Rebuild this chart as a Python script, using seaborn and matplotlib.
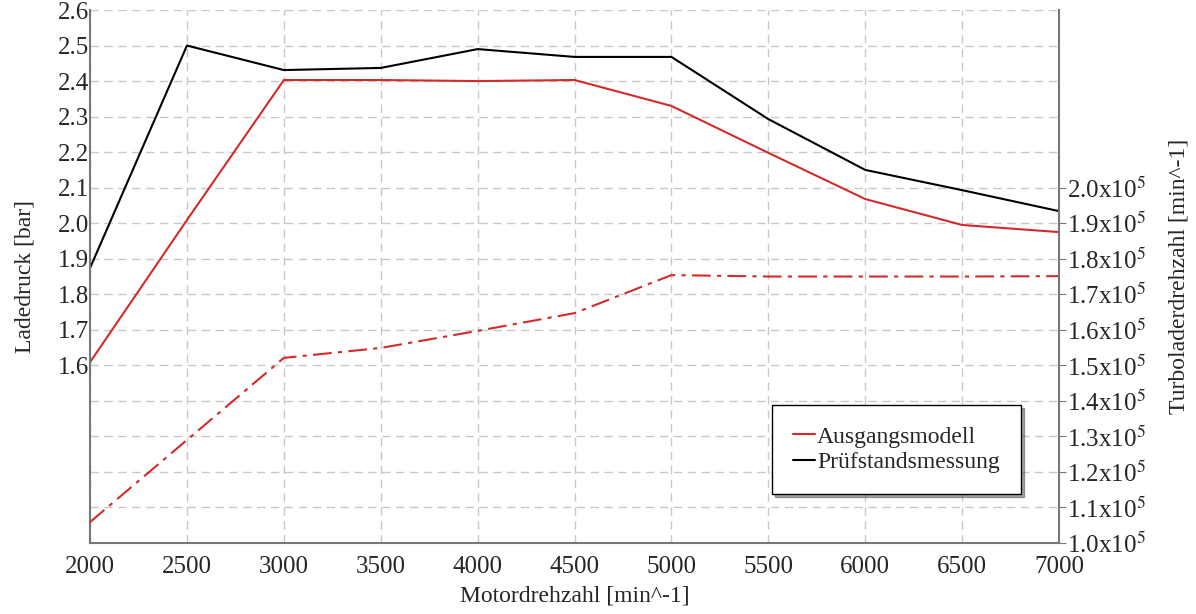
import numpy as np
import pandas as pd
import matplotlib
matplotlib.use('Agg')
import matplotlib.pyplot as plt
import seaborn as sns
from matplotlib.ticker import MultipleLocator

# Motor speed [min^-1]
drehzahl = [2000, 2500, 3000, 3500, 4000, 4500, 5000, 5500, 6000, 6500, 7000]
# boost pressure [bar]
ladedruck_messung = [1.874, 2.50, 2.431, 2.437, 2.49, 2.468, 2.468, 2.293, 2.15, 2.093, 2.034]
ladedruck_modell = [1.609, 2.009, 2.403, 2.403, 2.40, 2.403, 2.33, 2.198, 2.068, 1.995, 1.975]
# turbocharger speed [min^-1], model
turbo_modell = [1.059e5, 1.29e5, 1.521e5, 1.549e5, 1.597e5, 1.647e5, 1.754e5, 1.75e5, 1.75e5, 1.75e5, 1.751e5]

right_ticks = [1.0e5, 1.1e5, 1.2e5, 1.3e5, 1.4e5, 1.5e5, 1.6e5, 1.7e5, 1.8e5, 1.9e5, 2.0e5]

df = pd.DataFrame({'n': drehzahl, 'mess': ladedruck_messung,
                   'modell': ladedruck_modell, 'turbo': turbo_modell})

sns.set_style('white')
plt.rcParams['font.family'] = ['Liberation Serif', 'DejaVu Serif']
plt.rcParams['mathtext.fontset'] = 'stix'

RED = '#d42a2a'
GRAY = '#777777'

fig = plt.figure(figsize=(11.96, 6.14), dpi=100)
ax = fig.add_axes([0.0753, 0.1156, 0.8102, 0.8681])
ax2 = ax.twinx()

sns.lineplot(data=df, x='n', y='modell', ax=ax, color=RED, lw=1.5, label='Ausgangsmodell')
sns.lineplot(data=df, x='n', y='mess', ax=ax, color='black', lw=1.5, label='Prüfstandsmessung')
sns.lineplot(data=df, x='n', y='turbo', ax=ax2, color=RED, lw=1.5, legend=False)
ax2.lines[0].set_dashes([9, 3, 2, 3])

ax.set_xlim(2000, 7000)
ax.set_ylim(1.1, 2.6)
ax2.set_ylim(1.0e5, 2.5e5)

ax.xaxis.set_major_locator(MultipleLocator(500))
ax.xaxis.set_minor_locator(MultipleLocator(250))
ax.yaxis.set_major_locator(MultipleLocator(0.1))

yt = ax.get_yticks()
ax.set_yticks(yt)
ax.set_yticklabels([f'{v:.1f}' if v >= 1.55 else '' for v in yt])
ax.set_ylim(1.1, 2.6)

ax2.set_yticks(right_ticks)
ax2.set_yticklabels([f'{v/1e5:.1f}x10$^5$' for v in right_ticks])

ax.grid(True, which='major', color='#c8c8c8', ls=(0, (6, 4)), lw=1)
ax.set_axisbelow(True)

ax.tick_params(axis='x', which='both', direction='in', length=5, color=GRAY, labelsize=18, pad=9)
ax.tick_params(axis='y', which='both', length=0, labelsize=18, pad=1)
ax2.tick_params(axis='y', direction='out', length=5, color=GRAY, labelsize=18, pad=1)

for a in (ax, ax2):
    for s in ('left', 'bottom', 'right'):
        a.spines[s].set_color(GRAY)
        a.spines[s].set_linewidth(1.5)
    a.spines['top'].set_visible(False)
ax.spines['right'].set_visible(False)
ax2.spines['left'].set_visible(False)
ax2.spines['bottom'].set_visible(False)

ax.set_xlabel('Motordrehzahl [min^-1]', fontsize=17, labelpad=6)
ax.set_ylabel('Ladedruck [bar]', fontsize=17, labelpad=16)
ax2.set_ylabel('Turboladerdrehzahl [min^-1]', fontsize=17, labelpad=16)

leg = ax.legend(loc='upper left', bbox_to_anchor=(0.704, 0.259), fontsize=17,
                handlelength=0.9, handletextpad=0.1, borderpad=0.9,
                labelspacing=0.15, borderaxespad=0, frameon=True,
                fancybox=False, shadow=True)
leg.get_frame().set_edgecolor('black')
leg.get_frame().set_linewidth(1)

fig.savefig('out.png', dpi=100)
